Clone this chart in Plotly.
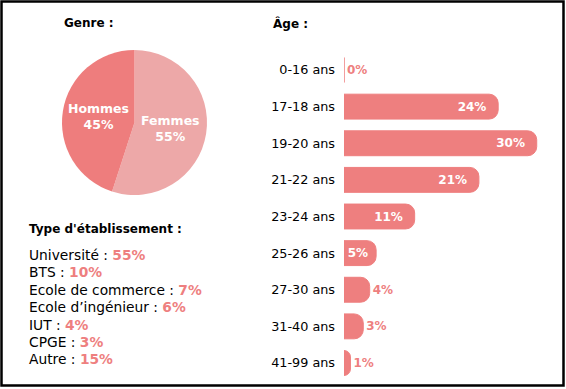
import plotly.graph_objects as go

W, H = 566, 389

genre_labels = ["Femmes", "Hommes"]
genre_values = [55, 45]

age_labels = ["0-16 ans", "17-18 ans", "19-20 ans", "21-22 ans", "23-24 ans",
              "25-26 ans", "27-30 ans", "31-40 ans", "41-99 ans"]
age_values = [0, 24, 30, 21, 11, 5, 4, 3, 1]

etab_labels = ["Université", "BTS", "Ecole de commerce", "Ecole d’ingénieur",
               "IUT", "CPGE", "Autre"]
etab_values = [55, 10, 7, 6, 4, 3, 15]

BAR = "#EE7F7F"
PIE_DARK = "#EE7D7D"
PIE_LIGHT = "#EDA8A8"
FONT = "DejaVu Sans"

fig = go.Figure()

fig.add_trace(go.Pie(
    labels=genre_labels, values=genre_values, sort=False,
    direction="clockwise", rotation=0,
    marker=dict(colors=[PIE_LIGHT, PIE_DARK], line=dict(width=0)),
    texttemplate="<b>%{label}<br>%{value}%</b>",
    textposition="inside", insidetextorientation="horizontal",
    textfont=dict(color="white", size=12.5, family=FONT),
    domain=dict(x=[62 / W, 207 / W], y=[(H - 195) / H, (H - 50) / H]),
    showlegend=False, hoverinfo="skip",
))

positions = ["inside" if v >= 5 else "outside" for v in age_values]
labels_txt = []
for v, p in zip(age_values, positions):
    if p == "inside":
        pad = "&nbsp;&nbsp;" if v >= 10 else "&nbsp;"
        labels_txt.append(f"<b>{v}%</b>{pad}")
    else:
        labels_txt.append(f"<b>{v}%</b>")

fig.add_trace(go.Bar(
    y=age_labels, x=age_values, orientation="h",
    marker=dict(color=BAR, cornerradius=9, line=dict(color=BAR, width=1)),
    text=labels_txt,
    textposition=positions, insidetextanchor="end",
    insidetextfont=dict(color="white", size=12, family=FONT),
    outsidetextfont=dict(color=BAR, size=12, family=FONT),
    cliponaxis=False, showlegend=False, hoverinfo="skip",
))

fig.update_layout(
    width=W, height=H, margin=dict(l=0, r=0, t=0, b=0),
    paper_bgcolor="white", plot_bgcolor="white",
    font=dict(family=FONT, color="black", size=13),
    bargap=0.32,
    xaxis=dict(domain=[344 / W, 556 / W], range=[0, 33], visible=False, fixedrange=True),
    yaxis=dict(domain=[(H - 381.3) / H, (H - 51.7) / H], autorange="reversed",
               showgrid=False, zeroline=False, showline=False, ticks="",
               tickfont=dict(size=12.8, family=FONT, color="black"), ticklabelstandoff=8),
)

anns = [
    dict(text="<b>Genre :</b>", x=62 / W, y=1 - 23 / H, xanchor="left", yanchor="middle",
         font=dict(size=12, family=FONT)),
    dict(text="<b>Âge :</b>", x=271 / W, y=1 - 24 / H, xanchor="left", yanchor="middle",
         font=dict(size=12, family=FONT)),
    dict(text="<b>Type d'établissement :</b>", x=27 / W, y=1 - 229 / H, xanchor="left",
         yanchor="middle", font=dict(size=12, family=FONT)),
]
for i, (lab, val) in enumerate(zip(etab_labels, etab_values)):
    anns.append(dict(
        text=f"{lab} : <b><span style='color:{BAR}'>{val}%</span></b>",
        x=27 / W, y=1 - (255 + i * 17.4) / H, xanchor="left", yanchor="middle",
        font=dict(size=13.8, family=FONT)))
for a in anns:
    a.update(xref="paper", yref="paper", showarrow=False)
fig.update_layout(annotations=anns)

fig.add_shape(type="rect", xref="paper", yref="paper",
              x0=1.5 / W, x1=563.5 / W, y0=1 - 385.5 / H, y1=1 - 1.5 / H,
              line=dict(color="black", width=2.5))

fig.write_html("out.html", config={"displayModeBar": False},
               post_script="document.body.style.margin='0';")
